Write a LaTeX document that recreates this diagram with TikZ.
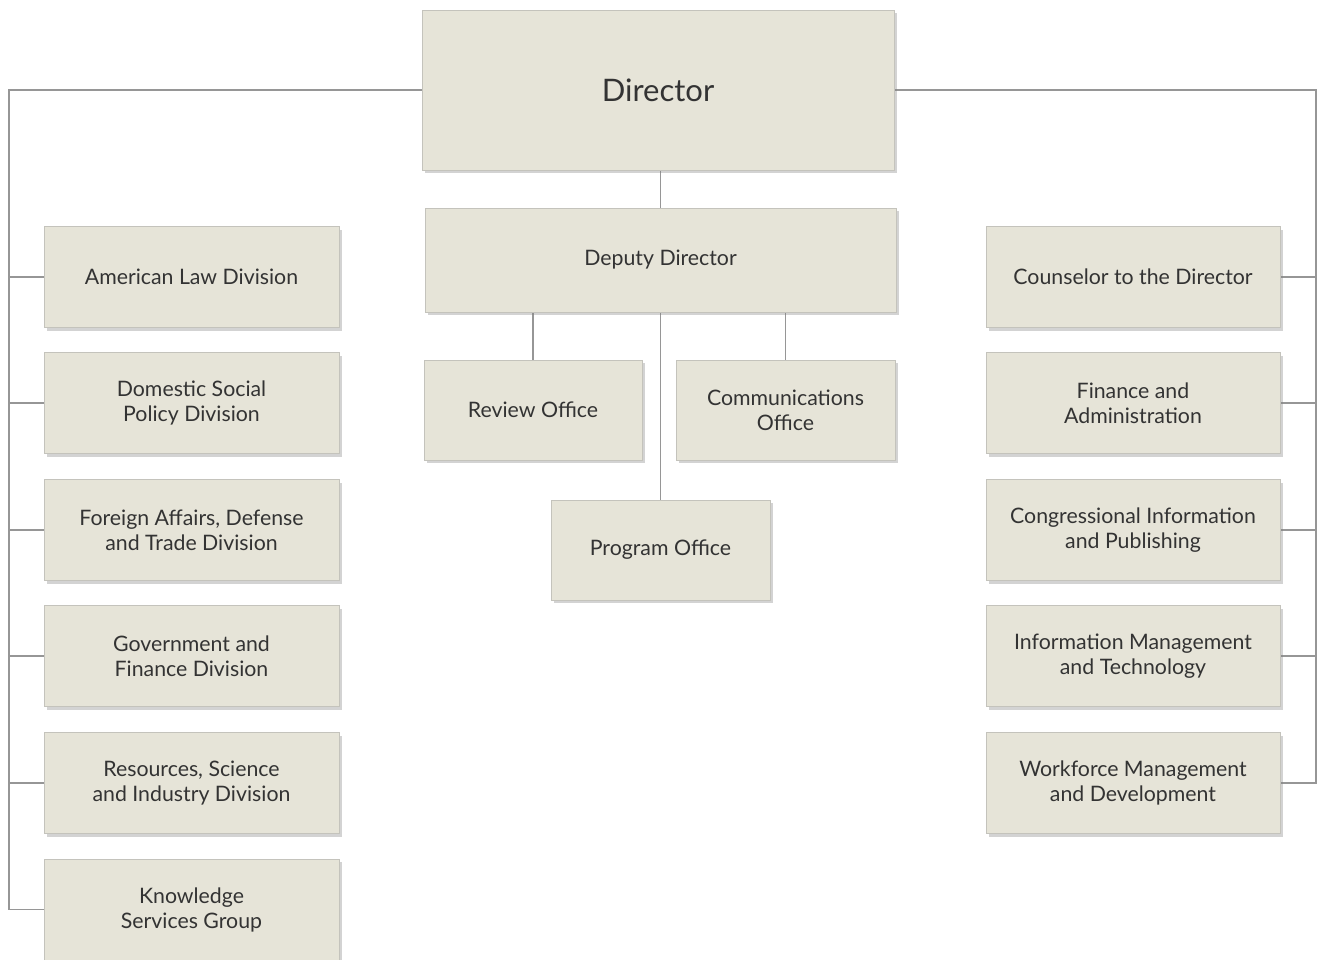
\documentclass[tikz,border=0pt]{standalone}
\usepackage{fontspec}
\setmainfont{Lato}
\usetikzlibrary{shadows}
\pgfdeclarelayer{background}
\pgfsetlayers{background,main}
\definecolor{boxfill}{HTML}{E6E4D8}
\definecolor{boxline}{HTML}{C4C3BC}
\definecolor{linkgray}{HTML}{969696}
\definecolor{textgray}{HTML}{333333}

\begin{document}
\begin{tikzpicture}[x=1pt,y=-1pt,
    unit/.style={draw=boxline,fill=boxfill,line width=1pt,text=textgray,
      font=\fontsize{21.3}{25}\selectfont,align=center,inner sep=0pt,
      drop shadow={shadow xshift=2.5pt,shadow yshift=-3pt,opacity=0.35}},
    link/.style={draw=linkgray,line width=1.5pt}]
  \useasboundingbox (0,0) rectangle (1317,959);

  % top of the tree
  \node[unit,minimum width=472,minimum height=160,font=\fontsize{31}{36}\selectfont] (dir) at (658,90) {Director};
  \node[unit,minimum width=471,minimum height=104] (dep) at (660.5,260) {Deputy Director};
  \node[unit,minimum width=218,minimum height=100] (rev) at (533,410) {Review Office};
  \node[unit,minimum width=219,minimum height=100] (com) at (785.5,410) {Communications\\Office};
  \node[unit,minimum width=219,minimum height=100] (prog) at (660.5,550) {Program Office};

  % left column
  \foreach \y/\t [count=\i] in {277/American Law Division,
      403/Domestic Social\\Policy Division,
      530/{Foreign Affairs, Defense\\and Trade Division},
      656/Government and\\Finance Division,
      783/Resources{,} Science\\and Industry Division,
      909.5/Knowledge\\Services Group}
    \node[unit,minimum width=295,minimum height=101] (l\i) at (191.5,\y) {\t};

  % right column
  \foreach \y/\t [count=\i] in {277/Counselor to the Director,
      403/Finance and\\Administration,
      530/Congressional Information\\and Publishing,
      656/Information Management\\and Technology,
      783/Workforce Management\\and Development}
    \node[unit,minimum width=294,minimum height=101] (r\i) at (1133,\y) {\t};

  \coordinate (lbus) at (9,0);
  \coordinate (rbus) at (1316,0);

  \begin{pgfonlayer}{background}
    \draw[link] (dep.north |- dir.south) -- (dep.north);
    \draw[link] (rev.north |- dep.south) -- (rev.north);
    \draw[link] (com.north |- dep.south) -- (com.north);
    \draw[link] (prog.north |- dep.south) -- (prog.north);
    \draw[link] (dir.west) -- (lbus |- dir.west) |- (l6.west);
    \draw[link] (dir.east) -- (rbus |- dir.east) |- (r5.east);
    \foreach \i in {1,...,5}
      \draw[link] (lbus |- l\i.west) -- (l\i.west);
    \foreach \i in {1,...,4}
      \draw[link] (rbus |- r\i.east) -- (r\i.east);
  \end{pgfonlayer}
\end{tikzpicture}
\end{document}
